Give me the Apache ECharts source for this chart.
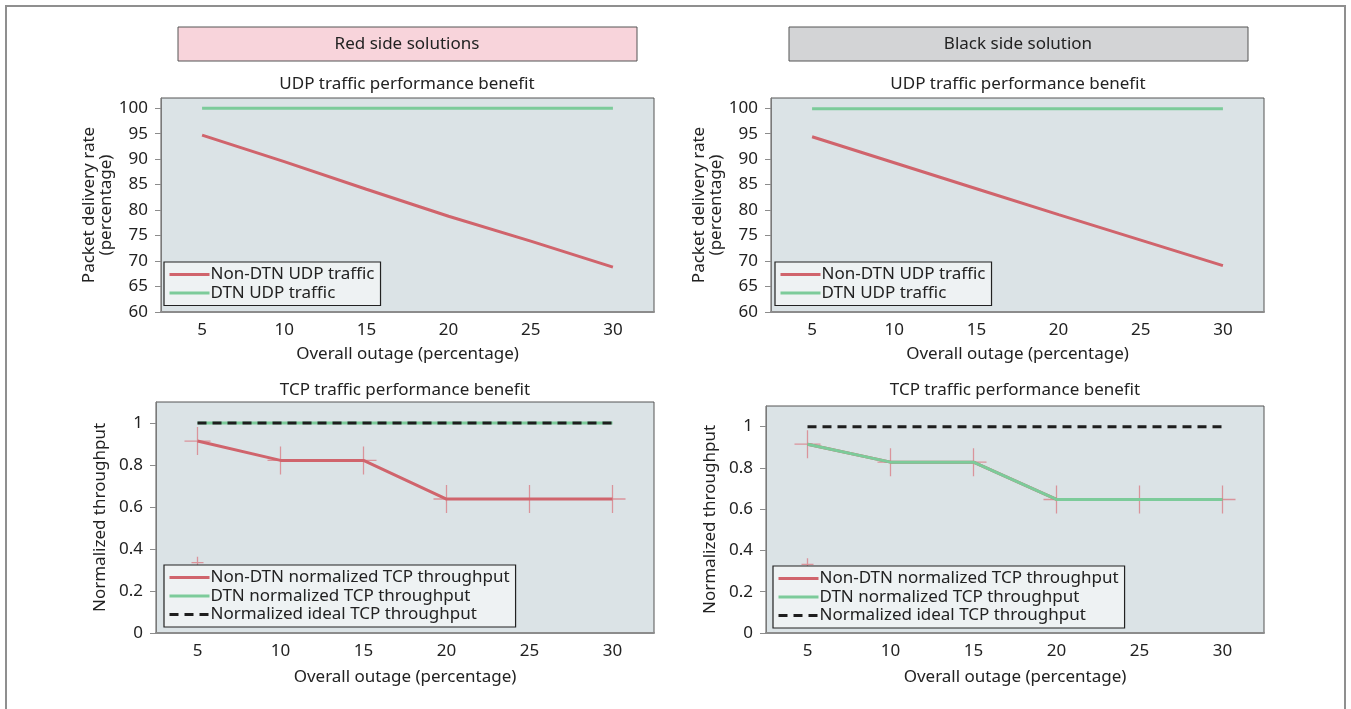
<!DOCTYPE html>
<html>
<head>
<meta charset="utf-8">
<script src="https://cdn.jsdelivr.net/npm/echarts@6/dist/echarts.min.js"></script>
<style>
  html, body { margin: 0; padding: 0; background: #fff; }
  #main { width: 1351px; height: 709px; }
</style>
</head>
<body>
<div id="main"></div>
<script>
// categories and tick labels
const outage = ['5', '10', '15', '20', '25', '30'];
const udpTicks = [60, 65, 70, 75, 80, 85, 90, 95, 100];
const tcpTicks = [0, 0.2, 0.4, 0.6, 0.8, 1];

// red side
const redNonDtnUdp = [94.7, 89.5, 84.1, 78.8, 73.9, 68.8];
const redDtnUdp = [100, 100, 100, 100, 100, 100];
const redNonDtnTcp = [0.914, 0.822, 0.822, 0.638, 0.638, 0.638];
const redDtnTcp = [1, 1, 1, 1, 1, 1];
const redIdealTcp = [1, 1, 1, 1, 1, 1];
const redStray = [0.335, null, null, null, null, null];

// black side
const blackNonDtnUdp = [94.4, 89.3, 84.2, 79.1, 74.1, 69.1];
const blackDtnUdp = [99.9, 99.9, 99.9, 99.9, 99.9, 99.9];
const blackNonDtnTcp = [0.915, 0.828, 0.828, 0.647, 0.647, 0.647];
const blackDtnTcp = [0.915, 0.828, 0.828, 0.647, 0.647, 0.647];
const blackIdealTcp = [1, 1, 1, 1, 1, 1];
const blackStray = [0.333, null, null, null, null, null];

const FONT = 'Noto Sans';
const FS = 17;
const RED = '#d0646c';
const GREEN = '#7ccb9a';
const CROSS = 'path://M0,13 L24,13 M12,0 L12,26';

var chartDom = document.getElementById('main');
var myChart = echarts.init(chartDom);

const grids = [
  { left: 161, top: 98, width: 493, height: 214 },
  { left: 771, top: 98, width: 493, height: 214 },
  { left: 156, top: 402, width: 498, height: 231 },
  { left: 766, top: 406, width: 498, height: 227 }
];

function xAxis(i, gap) {
  return {
    type: 'category', gridIndex: i, data: outage, boundaryGap: true,
    name: 'Overall outage (percentage)', nameLocation: 'middle', nameGap: gap,
    nameTextStyle: { fontFamily: FONT, fontSize: FS, color: '#222' },
    axisLine: { lineStyle: { color: '#8c8c8c', width: 2 } },
    axisTick: { length: 6, lineStyle: { color: '#8c8c8c' } },
    axisLabel: { fontFamily: FONT, fontSize: FS, color: '#222', margin: 10 }
  };
}

function yAxis(i, name, min, max, ticks, gap) {
  return {
    type: 'value', gridIndex: i, min: min, max: max,
    name: name, nameLocation: 'middle', nameGap: gap, nameRotate: 90,
    nameTextStyle: { fontFamily: FONT, fontSize: FS, color: '#222', lineHeight: 17 },
    splitLine: { show: false },
    axisLine: { show: true, lineStyle: { color: '#7a7a7a' } },
    axisTick: { show: true, length: 6, customValues: ticks, lineStyle: { color: '#8c8c8c' } },
    axisLabel: { fontFamily: FONT, fontSize: FS, color: '#222', margin: 13, customValues: ticks }
  };
}

function line(name, i, data, color, dashed) {
  return {
    name: name, type: 'line', xAxisIndex: i, yAxisIndex: i, data: data,
    symbol: 'none', silent: true,
    lineStyle: { color: color, width: 3, type: dashed ? [9, 6] : 'solid' },
    itemStyle: { color: color }
  };
}

function crosses(i, data, size) {
  return {
    type: 'scatter', xAxisIndex: i, yAxisIndex: i, data: data,
    symbol: CROSS, symbolSize: size, silent: true,
    itemStyle: { color: 'none', borderColor: '#d98088', borderWidth: 1.3 }
  };
}

function legend(left, top, names) {
  return {
    orient: 'vertical', left: left, top: top,
    data: names, itemWidth: 40, itemHeight: 14, itemGap: 1.5,
    padding: [4, 6, 4, 4],
    borderColor: '#222', borderWidth: 1.2, backgroundColor: '#eef2f3',
    itemStyle: { opacity: 0 },
    lineStyle: { width: 3 },
    textStyle: { fontFamily: FONT, fontSize: FS, color: '#222', padding: [0, 0, 0, -4] },
    selectedMode: false
  };
}

function title(text, x, y) {
  return {
    text: text, left: x, top: y, textAlign: 'center', padding: 0,
    textStyle: { fontFamily: FONT, fontSize: FS, fontWeight: 'normal', color: '#222' }
  };
}

var option = {
  animation: false,
  title: [
    title('UDP traffic performance benefit', 407, 76),
    title('UDP traffic performance benefit', 1018, 76),
    title('TCP traffic performance benefit', 405, 382),
    title('TCP traffic performance benefit', 1015, 382)
  ],
  grid: grids.map(g => Object.assign({ show: true, backgroundColor: '#dbe3e6', borderColor: '#555', borderWidth: 1 }, g)),
  xAxis: [xAxis(0, 34), xAxis(1, 34), xAxis(2, 36), xAxis(3, 36)],
  yAxis: [
    yAxis(0, 'Packet delivery rate\n(percentage)', 60, 102, udpTicks, 45),
    yAxis(1, 'Packet delivery rate\n(percentage)', 60, 102, udpTicks, 45),
    yAxis(2, 'Normalized throughput', 0, 1.1, tcpTicks, 47),
    yAxis(3, 'Normalized throughput', 0, 1.1, tcpTicks, 47)
  ],
  legend: [
    legend(164, 262, ['Non-DTN UDP traffic', 'DTN UDP traffic']),
    legend(775, 262, ['Non-DTN UDP traffic', 'DTN UDP traffic']),
    legend(164, 565, ['Non-DTN normalized TCP throughput', 'DTN normalized TCP throughput', 'Normalized ideal TCP throughput']),
    legend(773, 566, ['Non-DTN normalized TCP throughput', 'DTN normalized TCP throughput', 'Normalized ideal TCP throughput'])
  ],
  graphic: [
    { type: 'rect', shape: { x: 6, y: 6, width: 1339, height: 720 }, style: { fill: 'none', stroke: '#8f8f8f', lineWidth: 2 }, silent: true },
    { type: 'rect', shape: { x: 178, y: 27, width: 459, height: 34 }, style: { fill: '#f8d4db', stroke: '#555', lineWidth: 1 }, silent: true },
    { type: 'text', x: 407, y: 44, style: { text: 'Red side solutions', font: '17px "Noto Sans"', fill: '#222', align: 'center', verticalAlign: 'middle' }, silent: true },
    { type: 'rect', shape: { x: 789, y: 27, width: 459, height: 34 }, style: { fill: '#d3d4d6', stroke: '#555', lineWidth: 1 }, silent: true },
    { type: 'text', x: 1018, y: 44, style: { text: 'Black side solution', font: '17px "Noto Sans"', fill: '#222', align: 'center', verticalAlign: 'middle' }, silent: true }
  ],
  series: [
    line('Non-DTN UDP traffic', 0, redNonDtnUdp, RED),
    line('DTN UDP traffic', 0, redDtnUdp, GREEN),
    line('Non-DTN UDP traffic', 1, blackNonDtnUdp, RED),
    line('DTN UDP traffic', 1, blackDtnUdp, GREEN),

    line('DTN normalized TCP throughput', 2, redDtnTcp, GREEN),
    line('Normalized ideal TCP throughput', 2, redIdealTcp, '#1e1e1e', true),
    line('Non-DTN normalized TCP throughput', 2, redNonDtnTcp, RED),
    crosses(2, redNonDtnTcp, [26, 28]),
    crosses(2, redStray, [12, 12]),

    line('Non-DTN normalized TCP throughput', 3, blackNonDtnTcp, RED),
    line('DTN normalized TCP throughput', 3, blackDtnTcp, GREEN),
    line('Normalized ideal TCP throughput', 3, blackIdealTcp, '#1e1e1e', true),
    crosses(3, blackNonDtnTcp, [26, 28]),
    crosses(3, blackStray, [12, 12])
  ]
};

option && myChart.setOption(option);
</script>
</body>
</html>
